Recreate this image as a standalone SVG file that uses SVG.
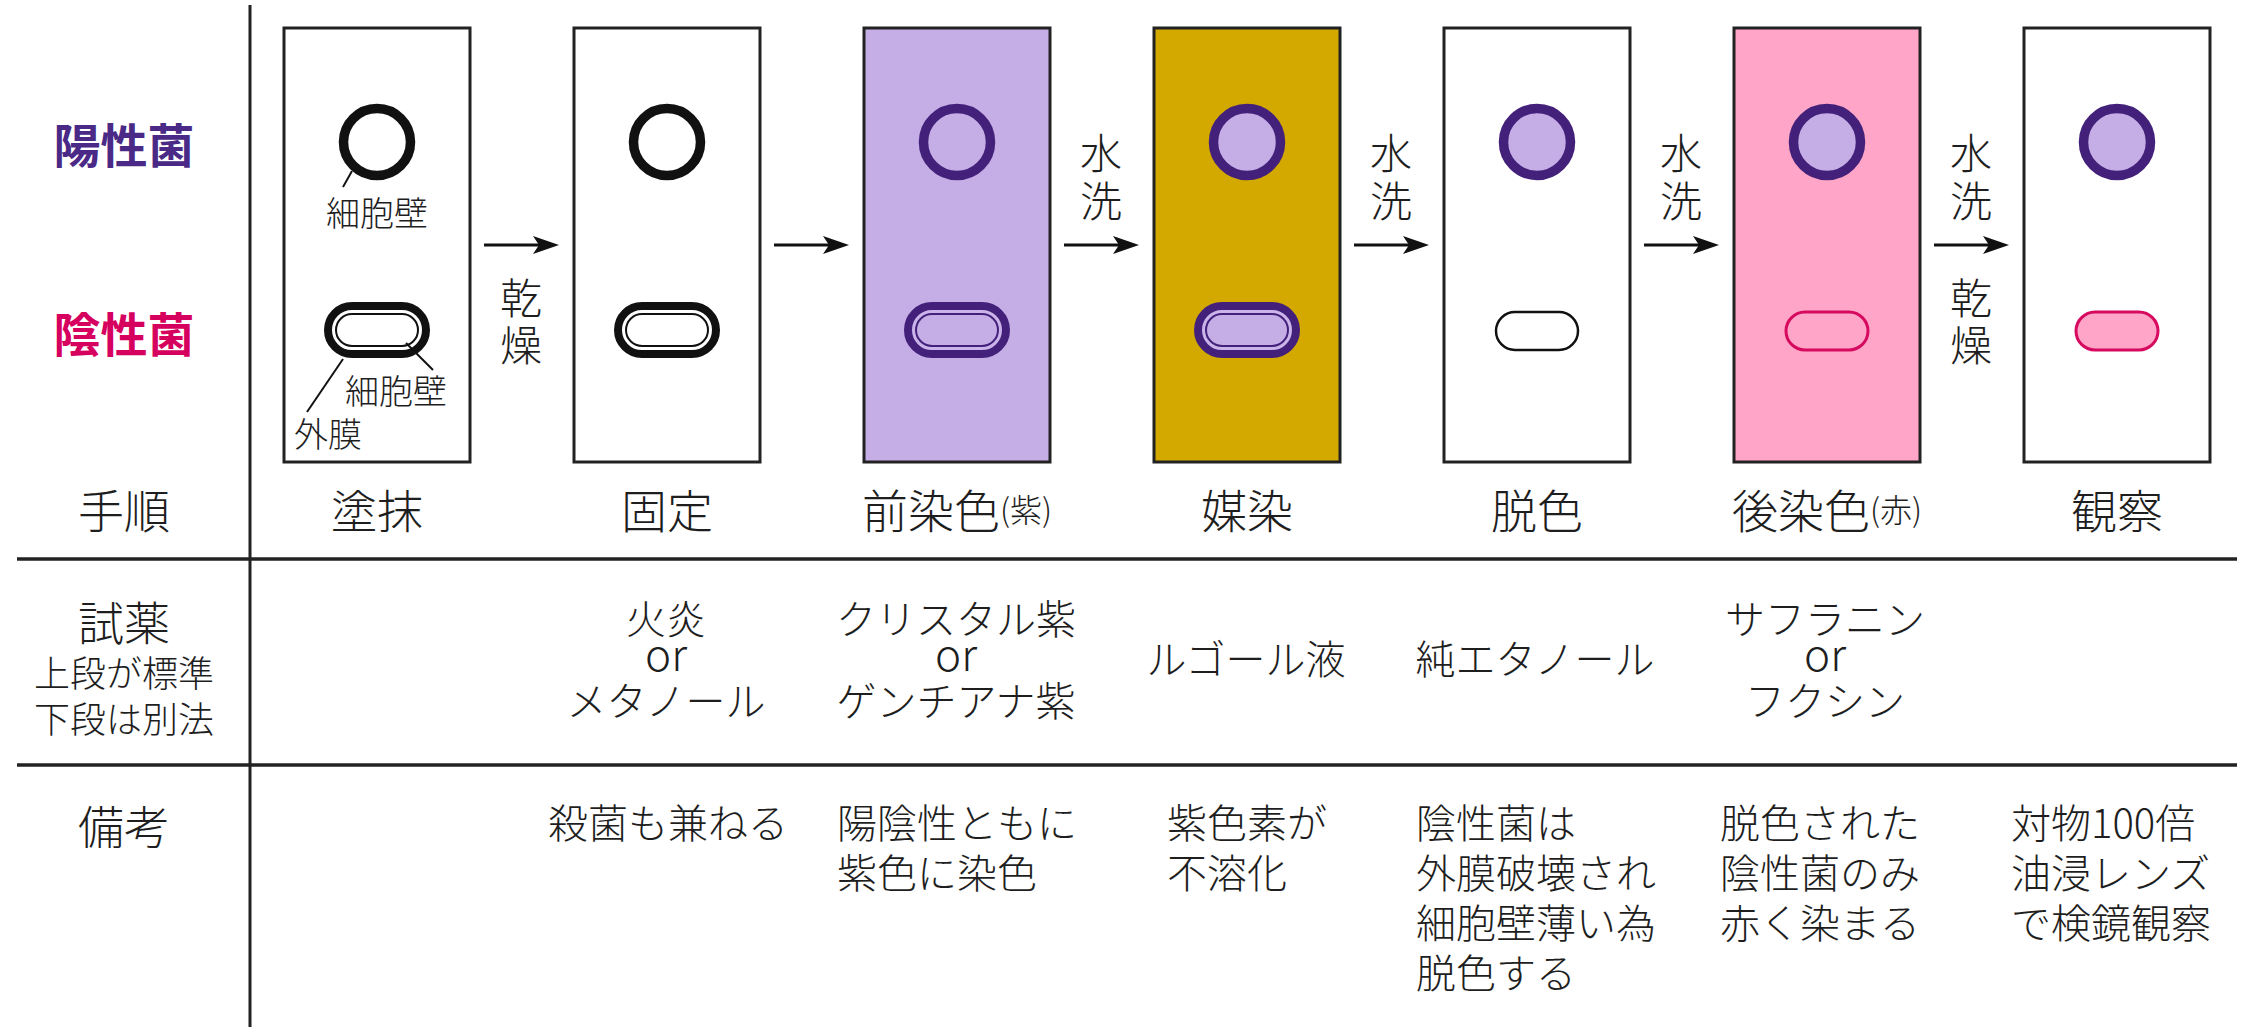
<svg xmlns="http://www.w3.org/2000/svg" width="2242" height="1027" viewBox="0 0 2242 1027">
  <defs>
    <style>
      text { font-family: "Noto Sans CJK JP", "Noto Sans", sans-serif; font-weight: 300; fill: #1e1e1e; dominant-baseline: central; }
      .head { font-size: 46px; text-anchor: middle; }
      .small { font-size: 32px; }
      .row { font-size: 40px; }
      .or { font-size: 44px; }
      .mid { text-anchor: middle; }
      .sub { font-size: 36px; text-anchor: middle; }
      .step { font-size: 42px; text-anchor: middle; }
      .cap { font-size: 34px; text-anchor: middle; }
      .pos { font-size: 47px; font-weight: bold; text-anchor: middle; fill: #4a2a86; }
      .neg { font-size: 47px; font-weight: bold; text-anchor: middle; fill: #d6005f; }
      .slide { stroke: #222; stroke-width: 3; }
      .grid { stroke: #222; stroke-width: 3.5; fill: none; }
      .arrow { stroke: #111; stroke-width: 3; fill: none; marker-end: url(#head); }
      .lead { stroke: #111; stroke-width: 2; fill: none; }
      .ringK { fill: none; stroke: #111; stroke-width: 9.5; }
      .ringP { fill: #c5ade6; stroke: #43217a; stroke-width: 9.5; }
      .outerK { fill: #fff; stroke: #111; stroke-width: 8; }
      .innerK { fill: #fff; stroke: #111; stroke-width: 2; }
      .outerP { fill: #cbb4ea; stroke: #43217a; stroke-width: 8; }
      .innerP { fill: #c5ade6; stroke: #43217a; stroke-width: 2; }
      .thinK { fill: #fff; stroke: #111; stroke-width: 2.5; }
      .thinM { fill: #ffa5c8; stroke: #d60a5f; stroke-width: 3; }
    </style>
    <marker id="head" markerUnits="userSpaceOnUse" markerWidth="30" markerHeight="24" refX="6" refY="12" orient="auto">
      <path d="M0,3 L26,12 L0,21 L6,12 Z" fill="#111"/>
    </marker>
  </defs>
  <rect width="2242" height="1027" fill="#fff"/>

  <!-- table rules -->
  <g id="grid">
    <line class="grid" x1="250" y1="5" x2="250" y2="1027" style="stroke-width:3"/>
    <line class="grid" x1="17" y1="559" x2="2237" y2="559"/>
    <line class="grid" x1="17" y1="765" x2="2237" y2="765"/>
  </g>

  <!-- row headings -->
  <g id="row-labels">
    <text class="pos" x="124" y="142">陽性菌</text>
    <text class="neg" x="124" y="331">陰性菌</text>
    <text class="head" x="124" y="508">手順</text>
    <text class="head" x="124" y="620">試薬</text>
    <text class="sub" x="124" y="671">上段が標準<tspan x="124" dy="46">下段は別法</tspan></text>
    <text class="head" x="124" y="824">備考</text>
  </g>

  <!-- step 1: smear -->
  <g id="step-smear">
    <rect class="slide" x="284" y="28" width="186" height="434" fill="#fff"/>
    <circle class="ringK" cx="377" cy="142" r="33.5"/>
    <rect class="outerK" x="328" y="306" width="98" height="48" rx="24"/>
    <rect class="innerK" x="336" y="314" width="82" height="32" rx="16"/>
    <line class="lead" x1="352" y1="171" x2="343" y2="187"/>
    <text class="cap" x="377" y="211">細胞壁</text>
    <line class="lead" x1="406" y1="343" x2="433" y2="370"/>
    <text class="cap" x="396" y="389">細胞壁</text>
    <line class="lead" x1="343" y1="359" x2="307" y2="412"/>
    <text class="cap" x="328" y="432">外膜</text>
    <text class="head" x="377" y="508">塗抹</text>
  </g>

  <!-- step 2: fixation -->
  <g id="step-fix">
    <rect class="slide" x="574" y="28" width="186" height="434" fill="#fff"/>
    <circle class="ringK" cx="667" cy="142" r="33.5"/>
    <rect class="outerK" x="618" y="306" width="98" height="48" rx="24"/>
    <rect class="innerK" x="626" y="314" width="82" height="32" rx="16"/>
    <text class="head" x="667" y="508">固定</text>
  </g>

  <!-- step 3: primary stain (crystal violet) -->
  <g id="step-primary">
    <rect class="slide" x="864" y="28" width="186" height="434" fill="#c5ade6"/>
    <circle class="ringP" cx="957" cy="142" r="33.5"/>
    <rect class="outerP" x="908" y="306" width="98" height="48" rx="24"/>
    <rect class="innerP" x="916" y="314" width="82" height="32" rx="16"/>
    <text class="head" x="957" y="508">前染色<tspan class="small">(紫)</tspan></text>
  </g>

  <!-- step 4: mordant -->
  <g id="step-mordant">
    <rect class="slide" x="1154" y="28" width="186" height="434" fill="#d3a900"/>
    <circle class="ringP" cx="1247" cy="142" r="33.5"/>
    <rect class="outerP" x="1198" y="306" width="98" height="48" rx="24"/>
    <rect class="innerP" x="1206" y="314" width="82" height="32" rx="16"/>
    <text class="head" x="1247" y="508">媒染</text>
  </g>

  <!-- step 5: decolorization -->
  <g id="step-decolor">
    <rect class="slide" x="1444" y="28" width="186" height="434" fill="#fff"/>
    <circle class="ringP" cx="1537" cy="142" r="33.5"/>
    <rect class="thinK" x="1496" y="312" width="82" height="38" rx="19"/>
    <text class="head" x="1537" y="508">脱色</text>
  </g>

  <!-- step 6: counterstain -->
  <g id="step-counter">
    <rect class="slide" x="1734" y="28" width="186" height="434" fill="#ffa5c8"/>
    <circle class="ringP" cx="1827" cy="142" r="33.5"/>
    <rect class="thinM" x="1786" y="312" width="82" height="38" rx="19"/>
    <text class="head" x="1827" y="508">後染色<tspan class="small">(赤)</tspan></text>
  </g>

  <!-- step 7: observation -->
  <g id="step-observe">
    <rect class="slide" x="2024" y="28" width="186" height="434" fill="#fff"/>
    <circle class="ringP" cx="2117" cy="142" r="33.5"/>
    <rect class="thinM" x="2076" y="312" width="82" height="38" rx="19"/>
    <text class="head" x="2117" y="508">観察</text>
  </g>

  <!-- process arrows with their step notes -->
  <g id="connectors">
    <line class="arrow" x1="484" y1="245" x2="539" y2="245"/>
    <text class="step" x="521" y="295">乾<tspan x="521" dy="47">燥</tspan></text>

    <line class="arrow" x1="774" y1="245" x2="829" y2="245"/>

    <line class="arrow" x1="1064" y1="245" x2="1119" y2="245"/>
    <text class="step" x="1101" y="150">水<tspan x="1101" dy="48">洗</tspan></text>

    <line class="arrow" x1="1354" y1="245" x2="1409" y2="245"/>
    <text class="step" x="1391" y="150">水<tspan x="1391" dy="48">洗</tspan></text>

    <line class="arrow" x1="1644" y1="245" x2="1699" y2="245"/>
    <text class="step" x="1681" y="150">水<tspan x="1681" dy="48">洗</tspan></text>

    <line class="arrow" x1="1934" y1="245" x2="1989" y2="245"/>
    <text class="step" x="1971" y="150">水<tspan x="1971" dy="48">洗</tspan></text>
    <text class="step" x="1971" y="295">乾<tspan x="1971" dy="47">燥</tspan></text>
  </g>

  <!-- reagents -->
  <g id="reagents">
    <text class="row mid" x="666" y="617">火炎<tspan class="or" x="666" dy="35">or</tspan><tspan x="666" dy="47">メタノール</tspan></text>

    <text class="row mid" x="956" y="617">クリスタル紫<tspan class="or" x="956" dy="35">or</tspan><tspan x="956" dy="47">ゲンチアナ紫</tspan></text>

    <text class="row mid" x="1246" y="657">ルゴール液</text>

    <text class="row mid" x="1535" y="657">純エタノール</text>

    <text class="row mid" x="1825" y="617">サフラニン<tspan class="or" x="1825" dy="35">or</tspan><tspan x="1825" dy="47">フクシン</tspan></text>
  </g>

  <!-- remarks -->
  <g id="remarks">
    <text class="row mid" x="668" y="821">殺菌も兼ねる</text>

    <text class="row" x="837" y="821">陽陰性ともに<tspan x="837" dy="50">紫色に染色</tspan></text>

    <text class="row" x="1167" y="821">紫色素が<tspan x="1167" dy="50">不溶化</tspan></text>

    <text class="row" x="1416" y="821">陰性菌は<tspan x="1416" dy="50">外膜破壊され</tspan><tspan x="1416" dy="50">細胞壁薄い為</tspan><tspan x="1416" dy="50">脱色する</tspan></text>

    <text class="row" x="1720" y="821">脱色された<tspan x="1720" dy="50">陰性菌のみ</tspan><tspan x="1720" dy="50">赤く染まる</tspan></text>

    <text class="row" x="2011" y="821">対物100倍<tspan x="2011" dy="50">油浸レンズ</tspan><tspan x="2011" dy="50">で検鏡観察</tspan></text>
  </g>
</svg>
